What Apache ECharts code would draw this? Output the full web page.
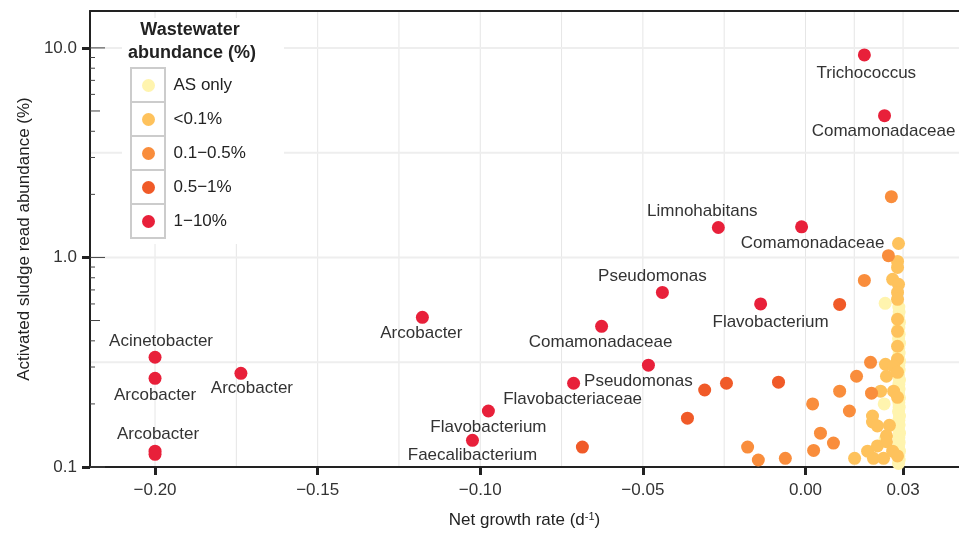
<!DOCTYPE html>
<html>
<head>
<meta charset="utf-8">
<script src="https://cdn.jsdelivr.net/npm/echarts@6/dist/echarts.min.js"></script>
<style>
  html, body { margin: 0; padding: 0; background: #fff; }
  #main { width: 959px; height: 534px; }
</style>
</head>
<body>
<div id="main"></div>
<script>
// tick positions
const xTicks = [-0.2, -0.15, -0.1, -0.05, 0, 0.03];
const xMinorGrid = [-0.175, -0.125, -0.075, -0.025, 0.015];
const yTicks = [0.1, 1, 10];
const yMinorGrid = [0.316, 3.16];

const groupNames = ["AS only", "<0.1%", "0.1\u22120.5%", "0.5\u22121%", "1\u221210%"];

// [net growth rate, AS read abundance %]
const asOnly = [
  [0.0245, 0.604], [0.0242, 0.2], [0.0245, 0.136],
  [0.0287, 0.58], [0.0288, 0.55], [0.0286, 0.52], [0.0289, 0.49], [0.0287, 0.46],
  [0.0288, 0.43], [0.0286, 0.41], [0.0289, 0.39], [0.0287, 0.37], [0.0288, 0.35],
  [0.0286, 0.335], [0.0289, 0.32], [0.0287, 0.305], [0.0288, 0.29], [0.0286, 0.275],
  [0.0289, 0.26], [0.0287, 0.248], [0.0288, 0.236], [0.0286, 0.225], [0.0289, 0.214],
  [0.0287, 0.203], [0.0288, 0.193], [0.0286, 0.184], [0.0289, 0.175], [0.0287, 0.167],
  [0.0288, 0.159], [0.0286, 0.152], [0.0289, 0.145], [0.0287, 0.138], [0.0288, 0.131],
  [0.0286, 0.125], [0.0289, 0.119], [0.0287, 0.113], [0.0288, 0.108], [0.0286, 0.104]
];
const under01 = [
  [0.0286, 1.166], [0.0283, 0.957], [0.0283, 0.896], [0.0268, 0.786], [0.0286, 0.744],
  [0.0283, 0.681], [0.0283, 0.631], [0.0283, 0.507], [0.0283, 0.444], [0.0283, 0.377],
  [0.0283, 0.327], [0.0246, 0.309], [0.0271, 0.303], [0.0249, 0.271], [0.0283, 0.283],
  [0.0231, 0.23], [0.0271, 0.23], [0.0283, 0.215], [0.0206, 0.175], [0.0206, 0.164],
  [0.0221, 0.157], [0.0258, 0.158], [0.0249, 0.141], [0.0249, 0.132], [0.0151, 0.11],
  [0.0191, 0.119], [0.0221, 0.126], [0.0209, 0.11], [0.024, 0.11], [0.0268, 0.119],
  [0.0283, 0.113]
];
const from01to05 = [
  [0.0264, 1.95], [0.0255, 1.02], [0.0181, 0.777], [0.02, 0.316], [0.0157, 0.271],
  [0.0105, 0.23], [0.0203, 0.225], [0.0022, 0.2], [0.0135, 0.185], [0.0046, 0.145],
  [0.0086, 0.13], [-0.0178, 0.1245], [-0.0145, 0.108], [-0.0062, 0.11], [0.0025, 0.12]
];
const from05to1 = [
  [-0.0686, 0.1245], [-0.0363, 0.171], [-0.031, 0.233], [-0.0243, 0.251],
  [-0.0083, 0.254], [0.0105, 0.597]
];
const over1X = [0.0181, 0.0243, -0.0268, -0.0012, -0.044, -0.0138, -0.1178, -0.0627,
  -0.0483, -0.0713, -0.0975, -0.1024, -0.2, -0.2, -0.1736, -0.2, -0.2];
const over1Y = [9.26, 4.75, 1.39, 1.4, 0.681, 0.6, 0.518, 0.469,
  0.306, 0.251, 0.185, 0.134, 0.334, 0.265, 0.28, 0.119, 0.115];
const over1Names = ["Trichococcus", "Comamonadaceae", "Limnohabitans", "Comamonadaceae",
  "Pseudomonas", "Flavobacterium", "Arcobacter", "Comamonadaceae", "Pseudomonas",
  "Flavobacteriaceae", "Flavobacterium", "Faecalibacterium", "Acinetobacter",
  "Arcobacter", "Arcobacter", "Arcobacter", ""];

// label offsets from point centre (px)
const labelOffsets = [[2, 18], [-1, 16], [-16, -16], [11, 16], [-10, -16], [10, 18],
  [-1, 16], [-1, 16], [-10, 16], [-1, 16], [0, 16], [0, 15], [6, -16], [0, 17],
  [11, 15], [3, -17], [0, 0]];

const colors = ["#FFF4AE", "#FEC25C", "#F98D3C", "#F05A28", "#E8203A"];
const FONT = '"Liberation Sans", Arial, sans-serif';

const X_MIN = -0.22, X_MAX = 0.0472, Y_MIN = 0.1, Y_MAX = 15;

const gridData = xTicks.concat(xMinorGrid).map(v => [v, 1, 0])
  .concat(yTicks.concat(yMinorGrid).map(v => [-0.1, v, 1]));

const logTickData = [];
[0.1, 1].forEach(d => { for (let k = 1; k <= 9; k++) logTickData.push([X_MIN, +(d * k).toPrecision(3), k]); });
logTickData.push([X_MIN, 10, 1]);

const redData = over1X.map((x, i) => ({
  value: [x, over1Y[i]],
  name: over1Names[i],
  label: {
    show: over1Names[i] !== "",
    formatter: over1Names[i],
    position: "inside",
    offset: labelOffsets[i],
    fontSize: 17,
    color: "#333",
    fontFamily: FONT
  }
}));

function scatter(name, data, color) {
  return {
    name: name,
    type: "scatter",
    data: data,
    symbol: "circle",
    symbolSize: 13,
    itemStyle: { color: color, opacity: 1 },
    z: 3
  };
}

var chartDom = document.getElementById("main");
var myChart = echarts.init(chartDom, null, { renderer: "canvas" });

var option = {
  animation: false,
  textStyle: { fontFamily: FONT },
  grid: { left: 90, top: 11, width: 869, height: 457 },
  legend: {
    data: groupNames,
    orient: "vertical",
    left: 142,
    top: 77,
    padding: 0,
    itemWidth: 26,
    itemHeight: 13,
    itemGap: 17,
    icon: "circle",
    z: 10,
    selectedMode: false,
    textStyle: { fontSize: 17, color: "#222", fontFamily: FONT, padding: [0, 0, 0, 7] }
  },
  graphic: [
    { type: "rect", z: 5, shape: { x: 122, y: 18, width: 162, height: 226 }, style: { fill: "#fff" } },
    { type: "text", z: 6, x: 190, y: 30, style: { text: "Wastewater", font: 'bold 18px "Liberation Sans", Arial', fill: "#222", align: "center", verticalAlign: "middle" } },
    { type: "text", z: 6, x: 192, y: 53, style: { text: "abundance (%)", font: 'bold 18px "Liberation Sans", Arial', fill: "#222", align: "center", verticalAlign: "middle" } }
  ].concat([0, 1, 2, 3, 4].map(i => ({
    type: "rect", z: 6,
    shape: { x: 131, y: 68 + 34 * i, width: 34, height: 34 },
    style: { fill: "#fff", stroke: "#cccccc", lineWidth: 2 }
  }))),
  xAxis: [{
    type: "value",
    min: X_MIN,
    max: X_MAX,
    name: "Net growth rate (d{sup|-1})",
    nameLocation: "middle",
    nameGap: 44,
    nameTextStyle: {
      fontSize: 17, color: "#222",
      rich: { sup: { fontSize: 11, verticalAlign: "top", padding: [0, 0, 8, 0], color: "#222" } }
    },
    axisLine: { show: true, onZero: false, lineStyle: { color: "#222", width: 2 } },
    axisTick: { show: true, customValues: xTicks, length: 8, lineStyle: { color: "#222", width: 3 } },
    axisLabel: {
      customValues: xTicks,
      fontSize: 17, color: "#333", margin: 15,
      formatter: v => (v < 0 ? "\u2212" : "") + Math.abs(v).toFixed(2)
    },
    splitLine: { show: false }
  }, {
    // top border of the panel
    type: "value",
    position: "top",
    min: X_MIN,
    max: X_MAX,
    axisLine: { show: true, onZero: false, lineStyle: { color: "#222", width: 2 } },
    axisTick: { show: false },
    axisLabel: { show: false },
    splitLine: { show: false }
  }],
  yAxis: {
    type: "log",
    logBase: 10,
    min: Y_MIN,
    max: Y_MAX,
    name: "Activated sludge read abundance (%)",
    nameLocation: "middle",
    nameGap: 57,
    nameTextStyle: { fontSize: 17, color: "#222" },
    axisLine: { show: true, onZero: false, lineStyle: { color: "#222", width: 2 } },
    axisTick: { show: true, customValues: yTicks, length: 8, lineStyle: { color: "#222", width: 3 } },
    axisLabel: {
      customValues: yTicks,
      fontSize: 17, color: "#333", margin: 13,
      formatter: v => Number(v).toFixed(1)
    },
    splitLine: { show: false }
  },
  series: [
    {
      // panel grid lines (major + minor)
      type: "custom",
      silent: true,
      z: 0,
      data: gridData,
      renderItem: function (params, api) {
        const cs = params.coordSys;
        if (api.value(2) === 0) {
          const p = api.coord([api.value(0), 1]);
          return { type: "line", shape: { x1: p[0], y1: cs.y, x2: p[0], y2: cs.y + cs.height },
            style: { stroke: "#e6e6e6", lineWidth: 1 } };
        }
        const p = api.coord([-0.1, api.value(1)]);
        return { type: "line", shape: { x1: cs.x, y1: p[1], x2: cs.x + cs.width, y2: p[1] },
          style: { stroke: "#eeeeee", lineWidth: 2 } };
      }
    },
    {
      // log ticks on the inside of the y axis
      type: "custom",
      silent: true,
      z: 7,
      clip: false,
      data: logTickData,
      renderItem: function (params, api) {
        const cs = params.coordSys;
        const k = api.value(2);
        const len = k === 1 ? 15 : (k === 5 ? 10 : 5);
        const p = api.coord([X_MIN, api.value(1)]);
        return { type: "line", shape: { x1: cs.x, y1: p[1], x2: cs.x + len, y2: p[1] },
          style: { stroke: "#444", lineWidth: 1 } };
      }
    },
    scatter(groupNames[0], asOnly, colors[0]),
    scatter(groupNames[1], under01, colors[1]),
    scatter(groupNames[2], from01to05, colors[2]),
    scatter(groupNames[3], from05to1, colors[3]),
    scatter(groupNames[4], redData, colors[4])
  ]
};

option && myChart.setOption(option);
</script>
</body>
</html>
